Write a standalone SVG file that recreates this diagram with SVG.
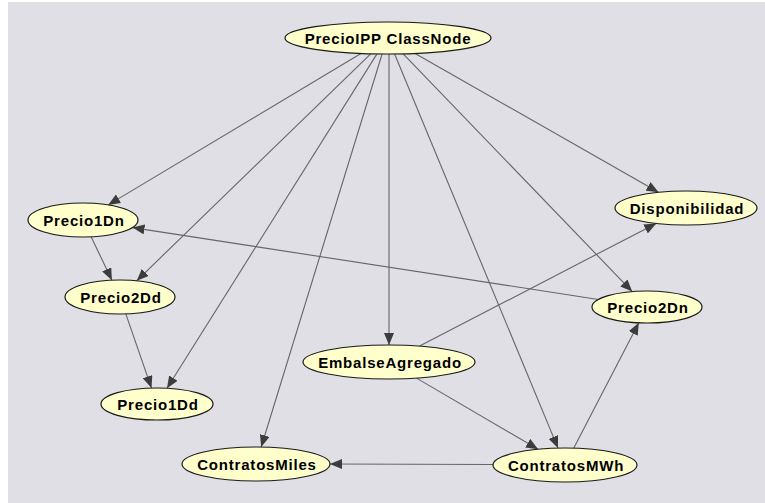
<svg xmlns="http://www.w3.org/2000/svg" width="765" height="503" viewBox="0 0 765 503">
<defs>
<marker id="arr" viewBox="0 0 12 10" refX="12" refY="5" markerWidth="12" markerHeight="10" markerUnits="userSpaceOnUse" orient="auto">
<path d="M0,0 L12,5 L0,10 z" fill="#3c3c3c"/>
</marker>
<style>
.node ellipse{fill:#ffffcc;stroke:#1a1a1a;stroke-width:1.2}
.node text{font-family:"Liberation Sans",Arial,sans-serif;font-weight:bold;font-size:15px;letter-spacing:0.8px;text-anchor:middle;fill:#000}
#edges line{stroke:#666;stroke-width:1.1;marker-end:url(#arr)}
</style>
</defs>
<rect x="0" y="0" width="765" height="503" fill="#ffffff"/>
<rect x="8" y="2" width="757" height="501" fill="#dfdfe5"/>
<g id="edges">
<line x1="361" y1="53.5" x2="108.2" y2="204.9"/>
<line x1="370.7" y1="53.8" x2="136.7" y2="280.8"/>
<line x1="377" y1="53.9" x2="167" y2="388.3"/>
<line x1="382.1" y1="54" x2="261.2" y2="447"/>
<line x1="389" y1="54" x2="389" y2="345"/>
<line x1="394.6" y1="54" x2="558" y2="448.1"/>
<line x1="403.2" y1="53.8" x2="632.2" y2="291.6"/>
<line x1="415.1" y1="53.4" x2="658.5" y2="192.3"/>
<line x1="91.1" y1="236.8" x2="111.9" y2="280.2"/>
<line x1="125.8" y1="313.9" x2="151.5" y2="388.1"/>
<line x1="598.4" y1="299.5" x2="132.5" y2="227.6"/>
<line x1="419.6" y1="346.1" x2="656.2" y2="223.4"/>
<line x1="416.5" y1="378.1" x2="538.1" y2="449.2"/>
<line x1="573.8" y1="448.1" x2="638.8" y2="322.8"/>
<line x1="493" y1="464.5" x2="330" y2="464"/>
</g>
<g id="PrecioIPP" class="node"><ellipse cx="388" cy="38" rx="103" ry="16"/><text x="388" y="43.5">PrecioIPP ClassNode</text></g>
<g id="Precio1Dn" class="node"><ellipse cx="83" cy="220" rx="55" ry="17"/><text x="84" y="225.5">Precio1Dn</text></g>
<g id="Precio2Dd" class="node"><ellipse cx="120" cy="297" rx="55" ry="17"/><text x="121" y="302.5">Precio2Dd</text></g>
<g id="Precio1Dd" class="node"><ellipse cx="157" cy="404" rx="56" ry="16"/><text x="158" y="409.5">Precio1Dd</text></g>
<g id="ContratosMiles" class="node"><ellipse cx="256" cy="464" rx="74" ry="17"/><text x="257" y="469.5">ContratosMiles</text></g>
<g id="ContratosMWh" class="node"><ellipse cx="565" cy="465" rx="72" ry="17"/><text x="566" y="470.5">ContratosMWh</text></g>
<g id="EmbalseAgregado" class="node"><ellipse cx="389" cy="362" rx="86" ry="17"/><text x="390" y="367.5">EmbalseAgregado</text></g>
<g id="Disponibilidad" class="node"><ellipse cx="686" cy="208" rx="71" ry="17"/><text x="687" y="213.5">Disponibilidad</text></g>
<g id="Precio2Dn" class="node"><ellipse cx="647" cy="307" rx="55" ry="16"/><text x="648" y="312.5">Precio2Dn</text></g>
</svg>
